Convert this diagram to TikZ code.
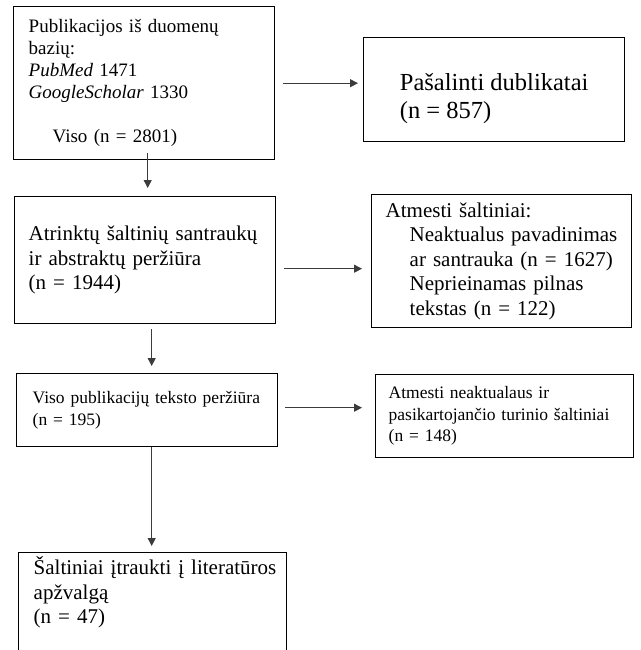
\documentclass[tikz,border=0pt]{standalone}
\usepackage{fontspec}
\setmainfont{Liberation Serif}
\usepackage{tikz}
\usetikzlibrary{arrows.meta, positioning, calc}
\definecolor{colLine}{HTML}{3C3C3C}
\tikzset{
  block/.style={
    draw=black, line width=1.4pt, anchor=north west,
    align=left, inner xsep=0pt, inner ysep=4pt
  },
  midtxt/.style ={font=\fontsize{21}{24.5}\selectfont},
  smalltxt/.style={font=\fontsize{17.5}{21.5}\selectfont},
  farr/.style={
    -{Triangle[length=8pt,width=8pt]},
    line width=0.9pt, draw=colLine
  }
}

\begin{document}
\begin{tikzpicture}[x=1pt, y=1pt]
  \useasboundingbox (0,0) rectangle (640,-650);
  % left column
  \node[block, font=\fontsize{19}{22}\selectfont, text width=231pt,
        minimum width=261pt, minimum height=153pt] (pub) at (13,-6)
    {Publikacijos iš duomenų\\ bazių:\\ \textit{PubMed} 1471\\
     \textit{GoogleScholar} 1330\\ \mbox{}\\ \hspace*{24pt}Viso (n = 2801)};
  \node[block, midtxt, text width=233pt,
        minimum width=261pt, minimum height=127pt] (scr) at (14,-196)
    {Atrinktų šaltinių santraukų\\ ir abstraktų peržiūra\\ (n = 1944)};
  \node[block, smalltxt, text width=229pt,
        minimum width=261pt, minimum height=73pt] (ft) at (16,-373)
    {Viso publikacijų teksto peržiūra\\ (n = 195)};
  \node[block, font=\fontsize{21}{24.5}\selectfont, text width=238pt,
        minimum width=268pt, text depth=80pt] (inc) at (18,-552)
    {\mbox{Šaltiniai įtraukti į literatūros}\\ apžvalgą\\ (n = 47)};
  % right column
  \node[block, font=\fontsize{24.5}{28}\selectfont,
        minimum width=261pt, minimum height=104pt] (dup) at (363,-37)
    {\rule{0pt}{35pt}Pašalinti dublikatai\\ (n = 857)};
  \node[block, midtxt, text width=232pt,
        minimum width=260pt, minimum height=133pt] (rej) at (371,-194)
    {Atmesti šaltiniai:\\ \hspace*{24pt}Neaktualus pavadinimas\\
     \hspace*{24pt}ar santrauka (n = 1627)\\ \hspace*{24pt}Neprieinamas pilnas\\
     \hspace*{24pt}tekstas (n = 122)};
  \node[block, smalltxt, text width=232pt,
        minimum width=258pt, minimum height=83pt] (exc) at (375,-374)
    {Atmesti neaktualaus ir\\ pasikartojančio turinio šaltiniai\\ (n = 148)};
  % arrows
  \draw[farr, shorten <=-7pt, shorten >=8pt] ($(pub.south)+(3.5,0)$)
    -- ($(pub.south |- scr.north)+(3.5,0)$);
  \draw[farr, shorten <=8pt, shorten >=5pt] (pub.east) -- (pub.east -| dup.west);
  \draw[farr, shorten <=5pt, shorten >=7pt] ($(scr.south)+(6.5,0)$)
    -- ($(scr.south |- ft.north)+(6.5,0)$);
  \draw[farr, shorten <=8pt, shorten >=9pt] ($(scr.east)+(0,-8.5)$)
    -- ($(scr.east -| rej.west)+(0,-8.5)$);
  \draw[farr, shorten >=6pt] ($(ft.south)+(4.5,0)$)
    -- ($(ft.south |- inc.north)+(4.5,0)$);
  \draw[farr, shorten <=7pt, shorten >=13pt] ($(ft.east)+(0,2.5)$)
    -- ($(ft.east -| exc.west)+(0,2.5)$);
\end{tikzpicture}
\end{document}
